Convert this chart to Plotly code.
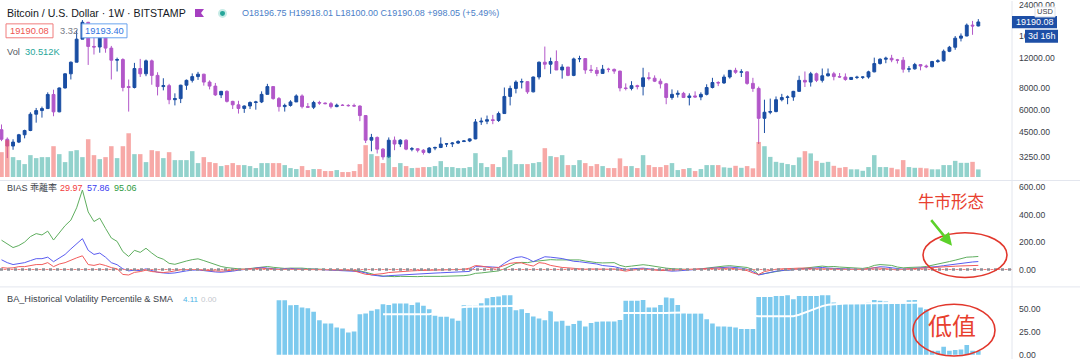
import plotly.graph_objects as go
import pandas as pd

# ---------------- data (weekly BTC/USD, Bitstamp) ----------------
weeks = pd.date_range("2017-09-04", "2020-11-30", freq="7D")

opens = [4650, 4100, 3750, 3950, 4350, 4600, 5700, 5980, 6140, 7390, 5880, 8050, 9700, 11300, 15300, 19100, 13900, 13800, 16200, 13600,
         11600, 11700, 8200, 8100, 10400, 9700, 11500, 9500, 8200, 8300, 6900, 7000, 8350, 8900, 9350, 9650, 8700, 8250, 7350, 7700,
         6750, 6450, 6150, 6350, 6650, 6700, 7400, 8200, 7000, 6300, 6400, 6700, 7250, 6300, 6250, 6650, 6600, 6550, 6300, 6420,
         6400, 6380, 6350, 5600, 4050, 4200, 3600, 3250, 4050, 3850, 4050, 3600, 3620, 3550, 3450, 3650, 3680, 3850, 3860, 3900,
         3980, 4010, 4120, 5150, 5200, 5300, 5250, 5750, 7200, 8000, 8700, 8750, 7650, 9300, 11300, 11000, 11400, 10200, 10600, 9500,
         11800, 11850, 10200, 10150, 9750, 10300, 10280, 10050, 8050, 8000, 8300, 8200, 9200, 9150, 8800, 8500, 7100, 7400, 7500, 7100,
         7250, 7150, 7400, 8100, 8650, 8600, 9300, 10150, 9900, 9950, 8550, 8000, 5400, 5850, 5900, 6900, 7100, 7150, 7700, 8900,
         8700, 9700, 8900, 9450, 9700, 9350, 9300, 9000, 9250, 9270, 9300, 9950, 11100, 11750, 11900, 11650, 11600, 10300, 10350, 10950,
         10750, 10650, 11400, 11500, 13050, 13750, 15500, 15950, 18400, 18196.75]
highs = [4980, 4200, 4100, 4400, 4650, 5850, 6190, 6300, 7600, 7870, 8100, 9750, 11400, 17200, 19666, 19200, 16500, 17250, 16400, 14000,
         12000, 11900, 9000, 11200, 11800, 11700, 11700, 9900, 9150, 8500, 7500, 8400, 9000, 9750, 9950, 9700, 8900, 8600, 7750, 7800,
         6800, 6800, 6400, 6750, 6800, 7700, 8500, 8200, 7150, 6550, 6850, 7400, 7400, 6600, 6800, 6800, 6650, 6700, 6550, 6500,
         6500, 6550, 6400, 5600, 4400, 4250, 3650, 4200, 4250, 4100, 4100, 3700, 3650, 3600, 3700, 3720, 4200, 3900, 3950, 4050,
         4050, 4150, 5350, 5450, 5600, 5650, 5900, 8100, 8300, 8900, 9100, 8800, 9350, 11400, 13880, 12000, 13200, 11000, 10600, 12000,
         12300, 11900, 10900, 10600, 10900, 10500, 10400, 10100, 8550, 8800, 8400, 10500, 9900, 9500, 9100, 8600, 7900, 7800, 7650, 7500,
         7700, 7600, 8450, 9200, 8800, 9600, 10200, 10500, 10300, 10000, 9200, 8200, 6900, 7000, 7200, 7450, 7300, 7750, 9450, 10000,
         9950, 9850, 10400, 10400, 9950, 9800, 9750, 9300, 9450, 9350, 10100, 12000, 11900, 12150, 12450, 11800, 12100, 10750, 11200, 10950,
         10950, 11500, 11750, 13350, 14000, 15950, 16500, 18800, 19450, 19918.01]
lows = [4000, 3200, 3570, 3900, 4150, 4560, 5100, 5450, 6100, 5550, 5850, 8000, 9000, 11300, 15300, 10900, 12500, 12800, 12800, 9000,
        10000, 7700, 5900, 8000, 9300, 9400, 8400, 7300, 7800, 6500, 6400, 6600, 7850, 8650, 8950, 8300, 7900, 7250, 7050, 6650,
        6100, 5750, 5800, 6100, 6050, 6600, 7400, 6900, 5900, 5900, 6300, 6700, 6150, 6200, 6100, 6450, 6500, 6150, 6250, 6350,
        6300, 6300, 5200, 3900, 3500, 3400, 3130, 3200, 3550, 3700, 3550, 3500, 3450, 3350, 3400, 3550, 3650, 3700, 3700, 3850,
        3950, 3950, 4100, 4950, 5000, 5000, 5150, 5750, 6400, 7500, 8000, 7450, 7600, 9000, 10300, 9700, 11000, 9100, 9400, 9400,
        11300, 9700, 9800, 9400, 9700, 9900, 9700, 7700, 7800, 7800, 7900, 7300, 8900, 8700, 8000, 6500, 6900, 7100, 7050, 6400,
        7100, 6850, 7300, 8000, 8250, 8500, 9100, 9700, 9300, 8400, 7650, 3850, 4450, 5700, 5850, 6750, 6500, 6800, 7650, 8150,
        8200, 8700, 8650, 9350, 8900, 9200, 8850, 8950, 9050, 9050, 9100, 9900, 10950, 11150, 11300, 11100, 9850, 9900, 10250, 10150,
        10450, 10550, 11200, 11400, 12900, 13300, 14850, 15900, 16200, 18100.00]
closes = [4100, 3750, 3950, 4350, 4600, 5700, 5980, 6140, 7390, 5880, 8050, 9700, 11300, 15300, 19100, 13900, 13800, 16200, 13600, 11600,
          11700, 8100, 8100, 10400, 9700, 11500, 9500, 8200, 8300, 6900, 7000, 8350, 8900, 9350, 9650, 8700, 8250, 7350, 7700, 6750,
          6450, 6150, 6350, 6650, 6700, 7400, 8200, 7000, 6300, 6400, 6700, 7250, 6300, 6250, 6650, 6600, 6550, 6300, 6420, 6400,
          6380, 6350, 5600, 4050, 4200, 3600, 3250, 4050, 3850, 4050, 3600, 3620, 3550, 3450, 3650, 3680, 3850, 3860, 3900, 3980,
          4010, 4120, 5150, 5200, 5300, 5250, 5750, 7200, 8000, 8700, 8750, 7650, 9300, 11300, 11000, 11400, 10200, 10600, 9500, 11800,
          11850, 10200, 10150, 9750, 10300, 10280, 10050, 8050, 8000, 8300, 8200, 9200, 9150, 8800, 8500, 7100, 7400, 7500, 7100, 7250,
          7150, 7400, 8100, 8650, 8600, 9300, 10150, 9900, 9950, 8550, 8000, 5400, 5850, 5900, 6900, 7100, 7150, 7700, 8900, 8700,
          9700, 8900, 9450, 9700, 9350, 9300, 9000, 9250, 9270, 9300, 9950, 11100, 11750, 11900, 11650, 11600, 10300, 10350, 10950, 10750,
          10650, 11400, 11500, 13050, 13750, 15500, 15950, 18400, 18200, 19190.08]
volume_k = [100, 148, 80, 68, 52, 88, 76, 80, 80, 124, 92, 60, 104, 108, 80, 152, 88, 72, 80, 124,
            76, 124, 176, 92, 92, 60, 108, 104, 76, 100, 68, 68, 68, 104, 56, 80, 60, 56, 44, 48,
            56, 48, 48, 44, 36, 56, 56, 56, 56, 48, 36, 32, 44, 28, 32, 32, 24, 24, 28, 20,
            20, 24, 52, 128, 92, 84, 56, 84, 40, 56, 44, 36, 37, 40, 40, 44, 64, 40, 40, 36,
            36, 40, 96, 56, 40, 52, 40, 80, 108, 52, 52, 52, 56, 60, 116, 84, 80, 88, 48, 48,
            68, 56, 44, 52, 44, 36, 36, 75, 44, 44, 36, 88, 48, 40, 40, 48, 56, 28, 32, 36,
            24, 32, 48, 48, 48, 39, 37, 45, 37, 44, 35, 141, 124, 81, 61, 57, 52, 48, 79, 104,
            95, 65, 57, 61, 45, 37, 40, 31, 31, 25, 40, 88, 40, 40, 37, 31, 68, 40, 37, 37,
            35, 31, 31, 48, 48, 65, 57, 57, 61, 30.512]

bias_short = [14, 10, 12, 21, 21, 28, 36, 36, 50, 21, 40, 50, 70, 85, 100, 36, 30, 40, 29, 14,
              5, -36, -40, -21, -15, -5, -15, -20, -22, -18, -8, -2, 0, 2, 0, -5, -10, -10, -12, -10,
              -5, 0, 2, 5, 8, 10, 6, 2, 0, 2, 4, 2, 0, 1, 2, 0, -1, -2, -3, -2,
              -4, -10, -20, -35, -38, -36, -30, -22, -18, -15, -12, -10, -8, -6, -5, -4, -3, -2, -1, 0,
              2, 10, 29, 25, 18, 10, 15, 30, 45, 50, 48, 35, 25, 50, 45, 30, 21, 15, 12, 8,
              5, 2, 4, 2, 0, 2, 4, -5, -12, -5, 2, 5, 0, -5, -8, -5, -3, 0, 2, 3,
              5, 8, 10, 12, 10, 8, 10, 5, 0, -8, -25, -36, -15, -5, 2, 5, 4, 8, 10, 12,
              10, 5, 6, 2, 4, 2, 0, 1, 2, 0, 8, 12, 10, 4, 0, -3, 2, 5, 6, 8,
              10, 12, 16, 18, 22, 24, 26, 28, 29, 29.97]
bias_mid = [71, 50, 36, 42, 50, 65, 79, 79, 90, 57, 85, 110, 150, 190, 225, 140, 110, 120, 90, 50,
            35, 5, -10, -5, -8, 5, -10, -20, -25, -28, -25, -15, -10, -5, -3, -8, -15, -18, -20, -18,
            -12, -5, 0, 5, 10, 15, 10, 5, 2, 5, 8, 5, 2, 0, 2, 0, -2, -3, -5, -5,
            -8, -10, -15, -25, -40, -45, -50, -45, -42, -40, -38, -35, -32, -30, -29, -26, -24, -22, -20, -17,
            -15, -14, 21, 22, 20, 18, 15, 45, 71, 88, 93, 80, 57, 75, 93, 90, 86, 80, 70, 60,
            57, 52, 50, 40, 29, 25, 21, 10, 0, 5, 8, 10, 5, 0, -5, -10, -12, -10, -8, -5,
            -2, 3, 8, 12, 15, 15, 18, 15, 10, 2, -15, -40, -30, -20, -12, -8, -5, -2, 2, 8,
            12, 12, 15, 10, 10, 8, 5, 3, 2, 0, 5, 15, 20, 18, 12, 5, 2, 5, 8, 10,
            12, 16, 22, 28, 34, 42, 48, 53, 55, 57.86]
bias_long = [214, 190, 160, 175, 200, 240, 262, 252, 280, 215, 270, 320, 360, 450, 580, 420, 350, 375, 300, 230,
             205, 130, 95, 140, 125, 155, 120, 90, 75, 45, 38, 52, 62, 72, 78, 65, 50, 35, 22, 14,
             8, 5, 2, 8, 12, 18, 22, 16, 10, 8, 10, 12, 10, 6, 4, 5, 2, 0, -2, -3,
             -5, -5, -10, -20, -32, -42, -48, -52, -52, -50, -52, -50, -52, -50, -52, -50, -50, -50, -48, -48,
             -45, -40, -28, -25, -20, -15, -10, 5, 25, 45, 52, 50, 58, 64, 70, 72, 70, 70, 72, 72,
             70, 62, 55, 50, 48, 50, 50, 30, 20, 25, 30, 35, 30, 22, 15, 10, 6, 3, 2, 0,
             0, 5, 12, 20, 22, 25, 28, 25, 22, 15, 0, -38, -30, -22, -12, -8, -5, 0, 5, 12,
             20, 22, 25, 20, 22, 18, 15, 12, 10, 8, 15, 30, 36, 35, 30, 18, 12, 15, 14, 18,
             22, 30, 40, 50, 58, 68, 80, 90, 92, 95.06]

hvp_start = 48  # first week with a volatility percentile value
hvp = [60.0, 60.0, 54.5, 54.8, 52.0, 51.2, 47.2, 38.0, 34.4, 34.4, 30.0, 28.9, 24.5, 25.6, 44.6, 45.4, 48.3, 50.1, 55.6, 54.8,
       56.3, 56.3, 56.3, 54.8, 57.4, 53.8, 50.1, 42.8, 41.7, 41.7, 39.9, 37.3, 54.5, 53.8, 53.8, 56.7, 62.2, 63.6, 64.0, 65.5,
       65.5, 49.0, 50.0, 46.0, 42.0, 40.0, 38.0, 49.0, 36.6, 37.3, 31.8, 33.7, 37.3, 31.1, 34.8, 36.2, 36.6, 36.6, 36.6, 38.1,
       59.3, 59.3, 59.3, 60.3, 51.9, 51.9, 54.8, 62.9, 62.2, 54.8, 46.4, 45.3, 45.3, 45.3, 39.1, 34.4, 31.1, 31.1, 30.8, 30.0,
       28.2, 28.2, 28.2, 63.6, 63.6, 63.6, 64.7, 64.7, 65.5, 61.1, 64.7, 64.7, 64.7, 64.7, 65.5, 65.5, 57.4, 56.7, 56.7, 56.7,
       56.7, 56.7, 57.4, 60.3, 59.3, 58.5, 57.4, 56.7, 56.7, 59.9, 60.3, 51.9, 50.1, 4.4, 4.4, 8.9, 4.4, 5.1, 5.8, 10.6,
       4.4, 4.11]
hvp_sma = [None] * 18 + [
       44.6, 44.6, 44.6, 44.6, 44.6, 44.6, 44.6, 44.6, 44.6, 46, 48, 50, 51, 52, 52.5, 52.7, 52.9, 53.1, 53.3, 53.5,
       53.6, 53.7, 53.8, 53.8, 53.5, 53, 52, 51, 50, 49, 48, 47, 47, 46, 46, 46, 45.5, 45.5, 45.5, 45.5,
       45.3, 45.3, 45.3, 45.3, 45.3, 45.3, 45.3, 45.3, 45.3, 45.8, 46.2, 46.4, 46.6, 46.8, 47, 47, 47, 46.5, 46, 45.5,
       45, 44, 43.5, 43, 42.5, 42.4, 42.4, 42.4, 42.4, 42.4, 42.4, 42.4, 44, 46.5, 49, 51.5, 53.5, 55, 55.6, 56,
       56.3, 56.5, 56.5, 56.6, 56.7, 56.8, 56.9, 57, 57, 57.1, 57.2, 57.3, 57.3, 57.4, 57.4] + [None] * 9

price_ticks = [3250, 4500, 6000, 8000, 12000, 16000, 24000]
bias_ticks = [0, 200, 400, 600]
hvp_ticks = [0, 25, 50]

# ---------------- styling ----------------
UP, DN = "#1a4ea3", "#b257c9"
VOL_UP, VOL_DN = "rgba(38,166,154,0.5)", "rgba(239,83,80,0.5)"
HVP_C = "#7dcaee"
FONT = "Liberation Sans, Arial, sans-serif"
CJK = "Noto Sans CJK SC"
W, H, PLOT_W = 1080, 360, 1012
PITCH, X0 = 5.78, 1.5          # pixel spacing of weeks / pixel of first week


def px(x):
    return x / PLOT_W


def py(y):
    return 1 - y / H


n = len(weeks)
idx = list(range(n))
xmin = -X0 / PITCH
xmax = xmin + PLOT_W / PITCH
vol_colors = [VOL_UP if c >= o else VOL_DN for o, c in zip(opens, closes)]
hx = idx[hvp_start:]

fig = go.Figure()
fig.add_trace(go.Bar(x=idx, y=volume_k, marker=dict(color=vol_colors, line_width=0), width=0.78,
                     yaxis="y2", hoverinfo="skip"))
fig.add_trace(go.Candlestick(x=idx, open=opens, high=highs, low=lows, close=closes,
                             increasing=dict(line=dict(color=UP, width=1), fillcolor=UP),
                             decreasing=dict(line=dict(color=DN, width=1), fillcolor=DN),
                             whiskerwidth=0, yaxis="y", hoverinfo="skip"))
fig.add_trace(go.Scatter(x=idx, y=bias_long, mode="lines", line=dict(color="#5fae5f", width=1), yaxis="y3"))
fig.add_trace(go.Scatter(x=idx, y=bias_mid, mode="lines", line=dict(color="#5a5cf0", width=1), yaxis="y3"))
fig.add_trace(go.Scatter(x=idx, y=bias_short, mode="lines", line=dict(color="#f25b5b", width=1), yaxis="y3"))
fig.add_trace(go.Bar(x=hx, y=hvp, marker=dict(color=HVP_C, line_width=0), width=0.8, yaxis="y4", hoverinfo="skip"))
fig.add_trace(go.Scatter(x=hx, y=hvp_sma, mode="lines", line=dict(color="white", width=2),
                         connectgaps=False, yaxis="y4"))

axis_font = dict(family=FONT, size=8.6, color="#3a3e48")
common_y = dict(side="right", anchor="x", showgrid=False, zeroline=False, ticks="",
                tickfont=axis_font, ticklabelstandoff=6, ticklabeloverflow="allow",
                showline=False, fixedrange=True)

fig.update_layout(
    width=W, height=H, margin=dict(l=0, r=W - PLOT_W, t=0, b=0),
    paper_bgcolor="white", plot_bgcolor="white", showlegend=False, hovermode=False,
    xaxis=dict(range=[xmin, xmax], visible=False, rangeslider=dict(visible=False), fixedrange=True),
    yaxis=dict(type="log", range=[3.3857, 4.4027], domain=[py(179), 1],
               tickvals=price_ticks, ticktext=[f"{v:.2f}" for v in price_ticks], **common_y),
    yaxis2=dict(overlaying="y", range=[-8, 708], visible=False, fixedrange=True),
    yaxis3=dict(range=[-116, 645.7], domain=[py(286), py(181)],
                tickvals=bias_ticks, ticktext=[f"{v:.2f}" for v in bias_ticks], **common_y),
    yaxis4=dict(range=[-4.7, 74.1], domain=[0, py(288)],
                tickvals=hvp_ticks, ticktext=[f"{v:.2f}" for v in hvp_ticks], **common_y),
)

shapes = []
# pane separators and price-scale border
for yy in (180.5, 287.5):
    shapes.append(dict(type="line", xref="paper", yref="paper", x0=0, x1=px(W), y0=py(yy), y1=py(yy),
                       line=dict(color="#e3e6ee", width=1), layer="above"))
shapes.append(dict(type="line", xref="paper", yref="paper", x0=1, x1=1, y0=0, y1=1,
                   line=dict(color="#e3e6ee", width=1), layer="above"))
# bias zero reference lines
shapes.append(dict(type="line", xref="paper", yref="y3", x0=0, x1=1, y0=0, y1=0,
                   line=dict(color="#8c8f96", width=2.5, dash="3px,4px"), layer="above"))
shapes.append(dict(type="line", xref="paper", yref="y3", x0=px(3.5), x1=1, y0=0, y1=0,
                   line=dict(color="#f08080", width=1, dash="3px,4px"), layer="above"))
# legend boxes
shapes.append(dict(type="rect", xref="paper", yref="paper", x0=px(6), x1=px(53), y0=py(37), y1=py(23),
                   line=dict(color="#f07c7c", width=1), fillcolor="white", layer="above"))
shapes.append(dict(type="rect", xref="paper", yref="paper", x0=px(82), x1=px(127), y0=py(37), y1=py(23),
                   line=dict(color="#6aa3ee", width=1), fillcolor="white", layer="above"))
# flag + status dot
shapes.append(dict(type="path", xref="paper", yref="paper",
                   path=f"M {px(195)},{py(8)} L {px(204)},{py(8)} L {px(201)},{py(12)} L {px(204)},{py(16)} L {px(195)},{py(16)} Z",
                   fillcolor="#a53fc0", line=dict(width=0), layer="above"))
shapes.append(dict(type="circle", xref="paper", yref="paper", x0=px(218), x1=px(227), y0=py(17), y1=py(8),
                   fillcolor="#c8ece7", line=dict(width=0), layer="above"))
shapes.append(dict(type="circle", xref="paper", yref="paper", x0=px(220), x1=px(225), y0=py(15), y1=py(10),
                   fillcolor="#26a69a", line=dict(width=0), layer="above"))
# price scale labels
shapes.append(dict(type="rect", xref="paper", yref="paper", x0=px(1012), x1=px(1057), y0=py(27.5), y1=py(15),
                   fillcolor="#1e4fa6", line=dict(width=0), layer="above"))
shapes.append(dict(type="rect", xref="paper", yref="paper", x0=px(1025), x1=px(1058), y0=py(42), y1=py(29),
                   fillcolor="#1e4fa6", line=dict(width=0), layer="above"))
shapes.append(dict(type="rect", xref="paper", yref="paper", x0=px(1035), x1=px(1055), y0=py(16), y1=py(6),
                   fillcolor="white", line=dict(color="#e0e3eb", width=1), layer="above"))
# hand-drawn highlight ellipses
shapes.append(dict(type="circle", xref="paper", yref="paper", x0=px(923), x1=px(1007), y0=py(278), y1=py(233),
                   line=dict(color="#e2372c", width=1.6), layer="above"))
shapes.append(dict(type="circle", xref="paper", yref="paper", x0=px(913), x1=px(995), y0=py(357), y1=py(305),
                   line=dict(color="#e2372c", width=1.6), layer="above"))
fig.update_layout(shapes=shapes)


def label(x, y, text, color="#131722", size=9.5, family=FONT, anchor="left"):
    return dict(x=px(x), y=py(y), xref="paper", yref="paper", text=text, showarrow=False,
                xanchor=anchor, yanchor="middle", font=dict(family=family, size=size, color=color))


ann = [
    label(5, 12, "Bitcoin / U.S. Dollar · 1W · BITSTAMP", size=10.6),
    label(240, 12, "O18196.75 H19918.01 L18100.00 C19190.08 +998.05 (+5.49%)", color="#4a80c8", size=9),
    label(29.5, 30, "19190.08", color="#ef5350", size=9.3, anchor="center"),
    label(58, 30, "3.32", color="#787b86", size=9.3),
    label(104.5, 30, "19193.40", color="#2f73e0", size=9.3, anchor="center"),
    label(5, 51, "Vol", color="#555a64", size=9.3),
    label(23, 51, "30.512K", color="#26a69a", size=9.3),
    label(5, 188, "BIAS 乖離率", color="#3a3e48", size=9, family=FONT + ", " + CJK),
    label(58, 188, "29.97", color="#f23b3b", size=9),
    label(85, 188, "57.86", color="#3b3bf0", size=9),
    label(112, 188, "95.06", color="#2e9a3e", size=9),
    label(5, 300, "BA_Historical Volatility Percentile & SMA", color="#3a3e48", size=9.2),
    label(181, 300, "4.11", color="#4fb3e6", size=8),
    label(199, 300, "0.00", color="#c4c7ce", size=8),
    label(1034.5, 21.3, "19190.08", color="white", size=9, anchor="center"),
    label(1041.5, 35.5, "3d 16h", color="white", size=9, anchor="center"),
    label(1045, 11, "USD", color="#3a3e48", size=7.5, anchor="center"),
    label(951, 201, "牛市形态", color="#e8402f", size=16.5, family=CJK, anchor="center"),
    label(952, 325.5, "低值", color="#e8402f", size=24, family=CJK, anchor="center"),
    dict(x=px(952), y=py(246), xref="paper", yref="paper", text="", showarrow=True,
         ax=-22, ay=-27, arrowhead=2, arrowsize=1, arrowwidth=2.5, arrowcolor="#5cd12a"),
]
fig.update_layout(annotations=ann)

# remove the default page margin so the figure sits flush in the 1080x360 window
fig.write_html("out.html", config={"displayModeBar": False},
               post_script="document.body.style.margin='0';document.body.style.overflow='hidden';")
